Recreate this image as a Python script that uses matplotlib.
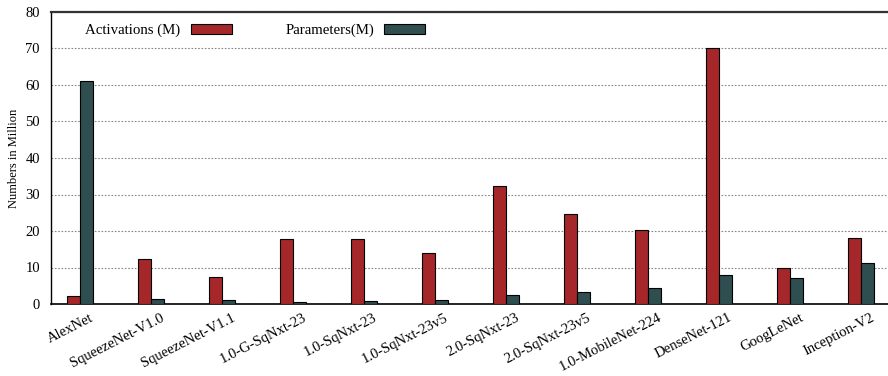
import matplotlib
matplotlib.use('Agg')
import matplotlib.pyplot as plt
import matplotlib.transforms as mtransforms
import numpy as np

# networks compared
models = ['AlexNet', 'SqueezeNet-V1.0', 'SqueezeNet-V1.1', '1.0-G-SqNxt-23',
          '1.0-SqNxt-23', '1.0-SqNxt-23v5', '2.0-SqNxt-23', '2.0-SqNxt-23v5',
          '1.0-MobileNet-224', 'DenseNet-121', 'GoogLeNet', 'Inception-V2']
# values in million
activations = [2.1, 12.3, 7.3, 17.8, 17.8, 14.1, 32.2, 24.7, 20.4, 70.0, 10.0, 18.0]
parameters = [61.0, 1.25, 1.2, 0.6, 0.7, 1.0, 2.4, 3.2, 4.3, 8.0, 7.1, 11.2]

plt.rcParams['font.family'] = ['Liberation Serif', 'DejaVu Serif']

fig = plt.figure(figsize=(8.88, 3.76), dpi=100)
ax = fig.add_axes([51/888, 1 - 304/376, 1 - 51/888, 292/376])

x = np.arange(len(models))
w = 0.185
ax.bar(x - w/2, activations, w, color='#a5272a', edgecolor='black', linewidth=0.8,
       label='Activations (M)', zorder=3)
ax.bar(x + w/2, parameters, w, color='#2e4e4f', edgecolor='black', linewidth=0.8,
       label='Parameters(M)', zorder=3)

ax.set_xlim(-0.41, 11.38)
ax.set_ylim(0, 80)
ax.set_yticks(range(0, 81, 10))
ax.yaxis.grid(True, linestyle=(0, (1.5, 1.5)), color='#888888', linewidth=0.8, zorder=0)
ax.set_axisbelow(True)

ax.tick_params(axis='both', length=0, labelsize=10.5)
ax.tick_params(axis='y', pad=8)
ax.tick_params(axis='x', pad=0)

ax.set_xticks(x)
ax.set_xticklabels(models, rotation=27, ha='right', va='baseline',
                   rotation_mode='anchor', fontsize=10.5)
# push the rotated labels down/right like the original
offset = mtransforms.ScaledTranslation(14/100, -16/100, fig.dpi_scale_trans)
for lbl in ax.get_xticklabels():
    lbl.set_transform(lbl.get_transform() + offset)

ax.set_ylabel('Numbers in Million', fontsize=9)
ax.yaxis.set_label_coords(-0.037, 0.5)

ax.spines['right'].set_visible(False)
ax.spines['top'].set_color('#333333')
ax.spines['top'].set_linewidth(1.6)
ax.spines['left'].set_linewidth(1.0)
ax.spines['bottom'].set_linewidth(1.2)

ax.legend(loc='upper left', bbox_to_anchor=(0.025, 1.005), ncol=2, markerfirst=False,
          frameon=False, fontsize=10.7, handlelength=2.75, handleheight=0.65,
          handletextpad=0.7, columnspacing=3.6)

fig.savefig('out.png', dpi=100)
